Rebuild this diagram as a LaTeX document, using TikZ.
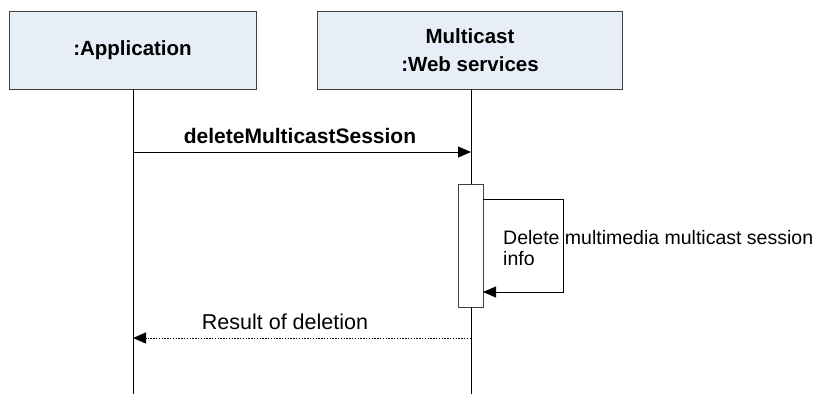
\documentclass[tikz,border=0pt]{standalone}
\usepackage{fontspec}
\setmainfont{Liberation Sans}
\usetikzlibrary{arrows.meta}
\begin{document}
\begin{tikzpicture}[x=1pt,y=-1pt,
  objbox/.style={draw=black!75, fill={rgb,255:red,232;green,238;blue,248}, line width=0.9pt, minimum width=247pt, minimum height=78pt, inner sep=0pt, font=\fontsize{20.5}{28}\selectfont\bfseries, align=center},
  life/.style={line width=0.9pt},
  msg/.style={line width=0.9pt, -{Triangle[length=13pt,width=11pt]}},
  ret/.style={line width=0.9pt, dash pattern=on 1.4pt off 1.4pt, -{Triangle[length=13pt,width=11pt]}},
  lbl/.style={font=\fontsize{19.5}{22}\selectfont, inner sep=0pt, anchor=base west},
  actbox/.style={draw=black!75, fill=white, line width=0.9pt, minimum width=25pt, minimum height=123pt, inner sep=0pt}
]
\useasboundingbox (0,0) rectangle (816,394);
\node[objbox] (app) at (132.5,50) {:Application};
\node[objbox, minimum width=305pt] (ws) at (470,50) {Multicast\\:Web services};
\coordinate (append) at (133,394);
\coordinate (wsend) at (471,394);
\node[actbox] (act) at (470.5,245.5) {};
\draw[life] (133,89) -- (append);
\draw[life] (471,89) -- (act.north -| 471,0);
\draw[life] (act.south -| 471,0) -- (wsend);
\coordinate (m1s) at (133,152);
\coordinate (m1e) at (471,152);
\draw[msg] (m1s) -- (m1e);
\node[font=\fontsize{21}{24}\selectfont\bfseries, inner sep=0pt, anchor=base] (m1l) at (300,143) {deleteMulticastSession};
\coordinate (s1) at (483,199);
\coordinate (s2) at (563,199);
\coordinate (s3) at (563,292);
\coordinate (s4) at (483,292);
\draw[msg] (s1) -- (s2) -- (s3) -- (s4);
\node[lbl] (sl1) at (503,244) {Delete multimedia multicast session};
\node[lbl] (sl2) at (503,265) {info};
\coordinate (r1) at (471,338);
\coordinate (r2) at (133,338);
\draw[ret] (r1) -- (r2);
\node[lbl, font=\fontsize{21.5}{24}\selectfont, anchor=base] (rl) at (285,329) {Result of deletion};
\end{tikzpicture}
\end{document}
